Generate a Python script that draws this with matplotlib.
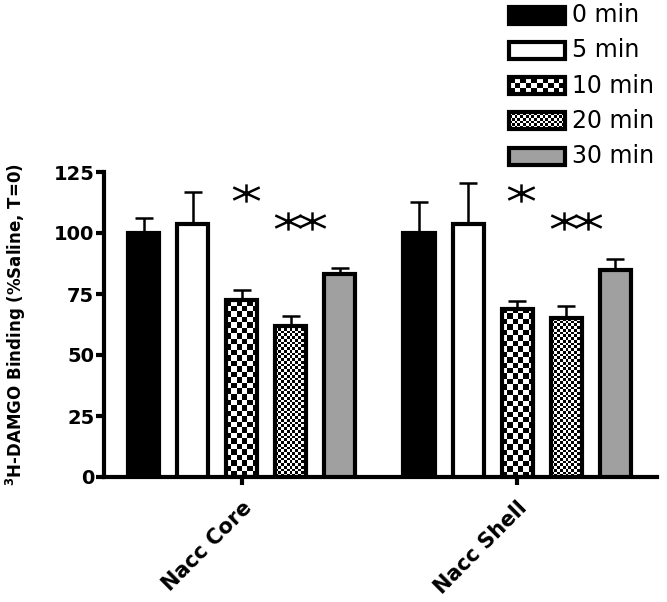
import numpy as np
import matplotlib.pyplot as plt
from matplotlib.patches import Rectangle
from matplotlib.path import Path

# data
regions = ['Nacc Core', 'Nacc Shell']
times = ['0 min', '5 min', '10 min', '20 min', '30 min']
core_mean = [100, 103.5, 72.5, 62, 83]
core_sem = [6, 13.5, 4, 4, 2.6]
shell_mean = [100, 103.5, 69, 65, 85]
shell_sem = [12.7, 17, 3.3, 5, 4.2]
means = [core_mean, shell_mean]
sems = [core_sem, shell_sem]
# significance marks: region, time index, number of stars, height
sig_region = [0, 0, 1, 1]
sig_time = [2, 3, 2, 3]
sig_count = [1, 2, 1, 2]
sig_y = [116.4, 105, 116.4, 105]

# styles: face colour or checker cell size (px)
faces = ['black', 'white', None, None, '#a0a0a0']
cells = [None, None, 5.5, 2.75, None]

step = 0.178
width = 0.113
offsets = (np.arange(len(times)) - 2) * step

fig = plt.figure(figsize=(6.67, 6.02), dpi=100)
ax = fig.add_axes([104/667, 125/602, 553/667, 305/602])
ax.set_xlim(-0.5, 1.508)
ax.set_ylim(0, 125)


def checker(a, x0, y0, w, h, cell, z):
    p0 = a.transData.transform((x0, y0))
    p1 = a.transData.transform((x0 + w, y0 + h))
    nx = max(1, int(round(abs(p1[0] - p0[0]) / cell)))
    ny = max(1, int(round(abs(p1[1] - p0[1]) / cell)))
    grid = np.add.outer(np.arange(ny), np.arange(nx)) % 2
    a.imshow(grid, cmap='gray', extent=(x0, x0 + w, y0, y0 + h), aspect='auto',
             interpolation='nearest', zorder=z)


for g in range(len(regions)):
    for i in range(len(times)):
        x = g + offsets[i]
        m = means[g][i]
        ax.errorbar(x, m, yerr=[[0], [sems[g][i]]], color='k', elinewidth=1.8,
                    capsize=6.5, capthick=1.8, zorder=1)
        if faces[i] is None:
            ax.bar(x, m, width, facecolor='none', edgecolor='k', linewidth=3, zorder=3)
            checker(ax, x - width/2, 0, width, m, cells[i], 2)
        else:
            ax.bar(x, m, width, color=faces[i], edgecolor='k', linewidth=3, zorder=3)

ax.set_xlim(-0.5, 1.508)
ax.set_ylim(0, 125)

# asterisk marks
star = Path([(0, -9), (0, 9), (-13, -6), (13, 6), (-13, 6), (13, -6)],
            [Path.MOVETO, Path.LINETO] * 3)
for r, t, n, y in zip(sig_region, sig_time, sig_count, sig_y):
    if n == 1:
        xs = [r + offsets[t] + 0.015]
    else:
        xs = [r + offsets[t] + 0.035 - 0.0435, r + offsets[t] + 0.035 + 0.0435]
    ax.plot(xs, [y] * len(xs), ls='none', marker=star, ms=19, mew=1.8,
            mec='k', mfc='none', clip_on=False, zorder=4)

for s in ['top', 'right']:
    ax.spines[s].set_visible(False)
for s in ['left', 'bottom']:
    ax.spines[s].set_linewidth(3)
ax.set_yticks([0, 25, 50, 75, 100, 125])
ax.tick_params(axis='both', length=6, width=3, labelsize=14, pad=1)
ax.tick_params(axis='x', pad=9)
for lbl in ax.get_yticklabels():
    lbl.set_fontweight('bold')
ax.set_xticks([0, 1])
ax.set_xticklabels(regions, rotation=45, ha='right', rotation_mode='anchor',
                   fontsize=15, fontweight='bold')
ax.set_ylabel(r'$^{\mathbf{3}}$H-DAMGO Binding (%Saline, T=0)', fontsize=12,
              fontweight='bold')
ax.yaxis.set_label_coords(-0.138, 0.5)

# legend drawn in pixel coordinates
lax = fig.add_axes([0, 0, 1, 1])
lax.set_xlim(0, 667)
lax.set_ylim(602, 0)
lax.axis('off')
for i, name in enumerate(times):
    yc = 15 + i * 35.3
    if faces[i] is None:
        checker(lax, 509, yc - 8.5, 56, 17, cells[i], 2)
        lax.add_patch(Rectangle((509, yc - 8.5), 56, 17, facecolor='none',
                                edgecolor='k', linewidth=3, zorder=3))
    else:
        lax.add_patch(Rectangle((509, yc - 8.5), 56, 17, facecolor=faces[i],
                                edgecolor='k', linewidth=3, zorder=3))
    lax.text(572, yc, name, fontsize=17, va='center', ha='left')
lax.set_xlim(0, 667)
lax.set_ylim(602, 0)

fig.savefig('out.png', dpi=100)
